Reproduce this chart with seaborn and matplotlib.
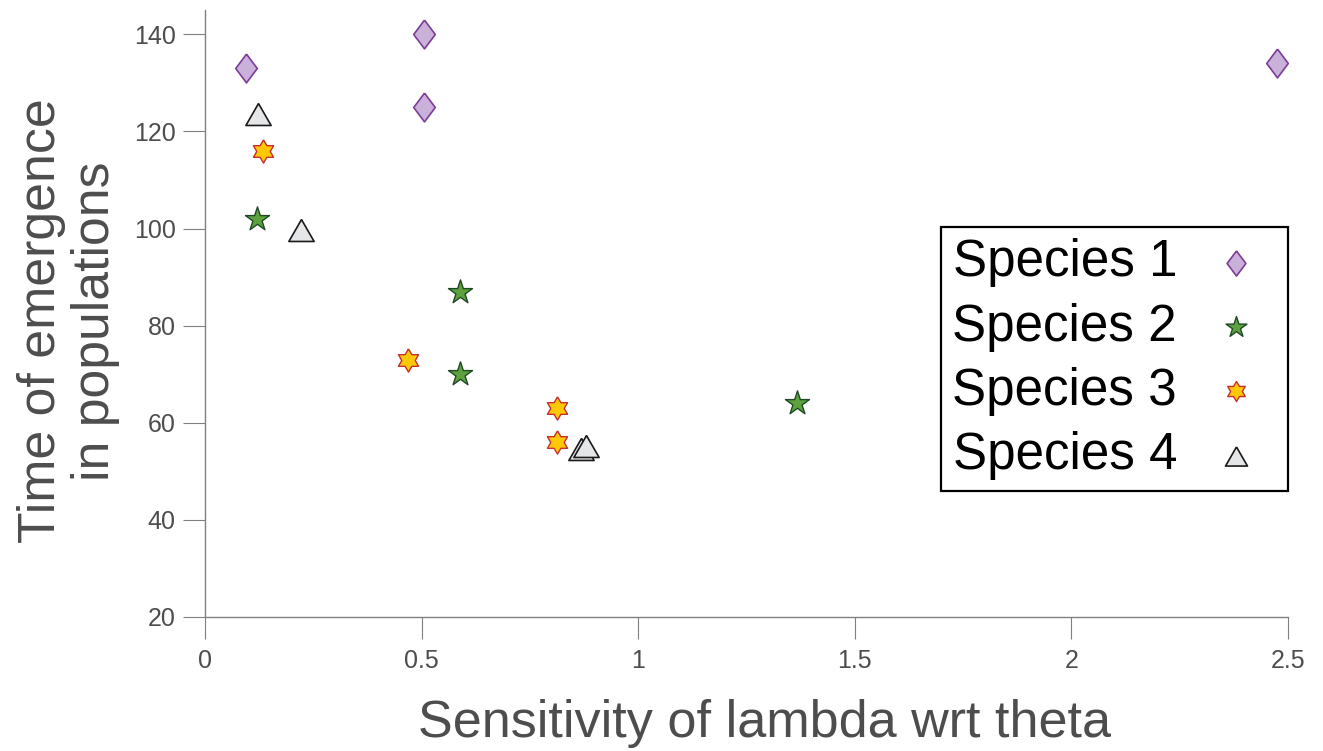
import numpy as np
import pandas as pd
import matplotlib
matplotlib.use("Agg")
import matplotlib.pyplot as plt
import seaborn as sns

# ---- data ----
species = ["Species 1", "Species 2", "Species 3", "Species 4"]
s1_x = [0.095, 0.506, 0.506, 2.475]
s1_y = [133, 140, 125, 134]
s2_x = [0.120, 0.589, 0.589, 1.367]
s2_y = [102, 87, 70, 64]
s3_x = [0.134, 0.469, 0.813, 0.813]
s3_y = [116, 73, 63, 56]
s4_x = [0.122, 0.222, 0.868, 0.880]
s4_y = [123.5, 99.7, 54.5, 55.3]
x_ticks = [0, 0.5, 1, 1.5, 2, 2.5]
x_ticklabels = ["0", "0.5", "1", "1.5", "2", "2.5"]
y_ticks = [20, 40, 60, 80, 100, 120, 140]

sns.set_theme(style="white")
plt.rcParams["font.family"] = ["Liberation Sans", "DejaVu Sans"]

# custom markers
diamond = [(0, 1), (0.75, 0), (0, -1), (-0.75, 0), (0, 1)]
ang = np.deg2rad(np.arange(12) * 30 + 90)
rad = np.where(np.arange(12) % 2 == 0, 1.0, 0.58)
hexstar = list(zip(rad * np.cos(ang), rad * np.sin(ang)))
hexstar.append(hexstar[0])
tri = [(0, 0.87), (1, -0.87), (-1, -0.87), (0, 0.87)]

styles = {
    "Species 1": dict(marker=diamond, s=430, color="#c9b1d9", edgecolor="#7d3c98", linewidth=1.2),
    "Species 2": dict(marker="*", s=330, color="#5da23e", edgecolor="#1e4a26", linewidth=1.0),
    "Species 3": dict(marker=hexstar, s=280, color="#ffc807", edgecolor="#c62d2d", linewidth=1.0),
    "Species 4": dict(marker=tri, s=330, color="#e5e6e7", edgecolor="#1a1a1a", linewidth=1.2),
}
data = {
    "Species 1": (s1_x, s1_y),
    "Species 2": (s2_x, s2_y),
    "Species 3": (s3_x, s3_y),
    "Species 4": (s4_x, s4_y),
}

fig = plt.figure(figsize=(13.23, 7.51), dpi=100)
ax = fig.add_axes([205 / 1323, 1 - 617 / 751, 1083 / 1323, 607 / 751])

for name in species:
    xs, ys = data[name]
    df = pd.DataFrame({"x": xs, "y": ys})
    sns.scatterplot(data=df, x="x", y="y", ax=ax, label=name, zorder=3, **styles[name])

ax.set_xlim(0, 2.5)
ax.set_ylim(20, 145)
ax.set_xticks(x_ticks)
ax.set_xticklabels(x_ticklabels)
ax.set_yticks(y_ticks)

spine_col = "#808080"
for side in ["top", "right"]:
    ax.spines[side].set_visible(False)
for side in ["left", "bottom"]:
    ax.spines[side].set_color(spine_col)
    ax.spines[side].set_linewidth(1.0)
ax.tick_params(axis="both", direction="out", length=16, width=0.8, color=spine_col,
               labelsize=18, labelcolor="#4d4d4d", left=True, bottom=True)
ax.tick_params(axis="x", pad=7)
ax.tick_params(axis="y", pad=5)

ax.set_xlabel("Sensitivity of lambda wrt theta", fontsize=37.5, color="#4d4d4d", labelpad=19)
ax.xaxis.label.set_x(0.517)
ax.set_ylabel("Time of emergence\nin populations", fontsize=37.3, color="#4d4d4d",
              labelpad=10, linespacing=1.13)
ax.yaxis.label.set_y(0.488)

leg = ax.legend(loc="upper right", bbox_to_anchor=(1.0, 0.6425), bbox_transform=ax.transAxes,
                borderaxespad=0, fontsize=36.8, markerfirst=False, markerscale=0.87,
                frameon=True, fancybox=False, edgecolor="black", framealpha=1,
                labelspacing=0.3, handletextpad=0.35, borderpad=0.22, handlelength=1.6)
leg.get_frame().set_linewidth(1.6)
for t in leg.get_texts():
    t.set_color("black")

fig.savefig("out.png", dpi=100)
